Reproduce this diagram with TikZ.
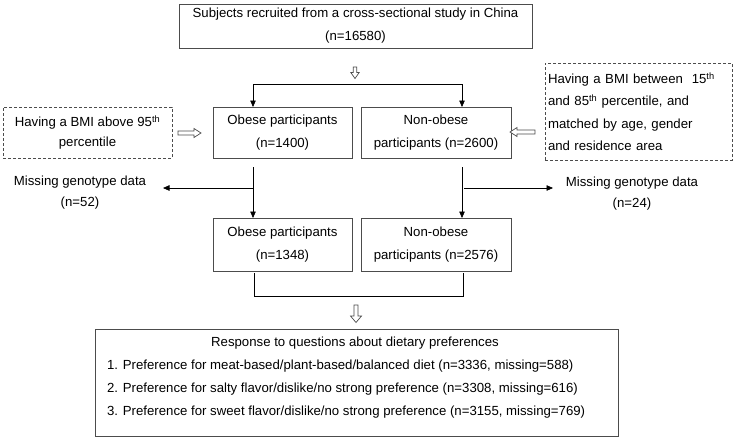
\documentclass[tikz,border=0pt]{standalone}
\usepackage{fontspec}
\setmainfont{Liberation Sans}
\usetikzlibrary{arrows.meta}
\begin{document}
\begin{tikzpicture}[x=1pt,y=-1pt,
  every node/.style={font=\fontsize{13.2}{23}\selectfont, text=black, inner sep=0pt, outer sep=0pt},
  box/.style={draw=black!70, line width=0.8pt, align=center},
  dbox/.style={box, dash pattern=on 3pt off 2pt},
  plain/.style={align=center},
  arr/.style={-{Triangle[length=6.5pt,width=5.5pt]}, line width=0.7pt, black},
  conn/.style={line width=0.7pt, black},
  hollow/.style={draw=black!70, line width=0.7pt, fill=white}]
\useasboundingbox[fill=white] (0,0) rectangle (736,440);

% nodes
\node[box, minimum width=353, minimum height=44] (top) at (355.5,26)
  {Subjects recruited from a cross-sectional study in China\\(n=16580)};
\node[box, minimum width=139, minimum height=51] (o1) at (282.5,132.5)
  {Obese participants\\(n=1400)};
\node[box, minimum width=150, minimum height=51] (n1) at (436,132.5)
  {Non-obese\\participants (n=2600)};
\node[dbox, minimum width=169, minimum height=51, font=\fontsize{13.2}{20}\selectfont] (l1) at (87.5,132.5)
  {Having a BMI above 95\textsuperscript{th}\\percentile};
\node[dbox, minimum width=187, minimum height=97, text width=181, align=left, font=\fontsize{13.2}{22.3}\selectfont] (r1) at (638.5,111.5)
  {Having a BMI between\ \ 15\textsuperscript{th}\\and 85\textsuperscript{th} percentile, and\\matched by age, gender\\and residence area};
\node[box, minimum width=139, minimum height=53] (o2) at (282.5,244.5)
  {Obese participants\\(n=1348)};
\node[box, minimum width=150, minimum height=53] (n2) at (436,244.5)
  {Non-obese\\participants (n=2576)};
\node[plain, font=\fontsize{13.2}{21}\selectfont] (m1) at (80,192.5) {Missing genotype data\\(n=52)};
\node[plain, font=\fontsize{13.2}{21}\selectfont] (m2) at (632,193.5) {Missing genotype data\\(n=24)};
\node[box, minimum width=523, minimum height=107] (resp) at (356.5,382.5) {};
\node (rt) at (355,343) {Response to questions about dietary preferences};
\node[anchor=west] (q1) at (107,366) {1. Preference for meat-based/plant-based/balanced diet (n=3336, missing=588)};
\node[anchor=west] (q2) at (107,389) {2. Preference for salty flavor/dislike/no strong preference (n=3308, missing=616)};
\node[anchor=west] (q3) at (107,412) {3. Preference for sweet flavor/dislike/no strong preference (n=3155, missing=769)};

% connectors
\coordinate (sL) at (253,84);
\coordinate (sR) at (462,84);
\draw[conn] (sL) -- (sR);
\draw[arr] (sL) -- (sL |- o1.north);
\draw[arr] (sR) -- (sR |- n1.north);

\coordinate (d1) at (253,167);
\coordinate (d2) at (462,167);
\draw[arr] (d1) -- (d1 |- o2.north);
\draw[arr] (d2) -- (d2 |- n2.north);

\coordinate (b1) at (253,188);
\coordinate (e1) at (163,188);
\draw[arr] (b1) -- (e1);
\coordinate (b2) at (464,188);
\coordinate (e2) at (553,188);
\draw[arr] (b2) -- (e2);

\coordinate (k1) at (254,273);
\coordinate (k2) at (463,273);
\draw[conn] (k1) -- ++(0,23) -| (k2);

% hollow arrows
\draw[hollow] (353.2,67) -- (356.8,67) -- (356.8,72.5) -- (359.2,72.5) -- (355,78.5) -- (350.8,72.5) -- (353.2,72.5) -- cycle;
\draw[hollow] (354,305) -- (358,305) -- (358,316) -- (361.5,316) -- (356,322.5) -- (350.5,316) -- (354,316) -- cycle;
\draw[hollow] (178,131) -- (194,131) -- (194,128.5) -- (201,133) -- (194,137.5) -- (194,135) -- (178,135) -- cycle;
\draw[hollow] (535,130) -- (517,130) -- (517,127.5) -- (510,132) -- (517,136.5) -- (517,134) -- (535,134) -- cycle;
\end{tikzpicture}
\end{document}
